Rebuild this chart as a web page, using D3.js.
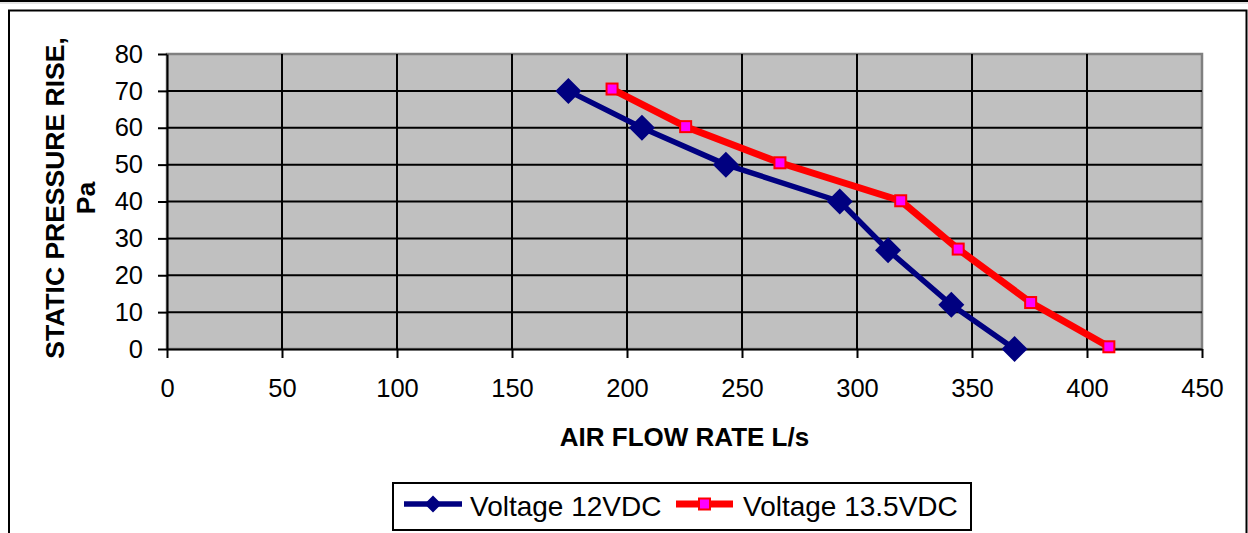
<!DOCTYPE html>
<html>
<head>
<meta charset="utf-8">
<script src="https://cdn.jsdelivr.net/npm/d3@7"></script>
<style>
  html, body { margin: 0; padding: 0; background: #fff; }
  svg { display: block; }
  text { font-family: "Liberation Sans", Arial, sans-serif; fill: #000; }
</style>
</head>
<body>
<svg id="chart" width="1248" height="533"></svg>
<script>
// ---- data ----
const seriesNames = ["Voltage 12VDC", "Voltage 13.5VDC"];
const flow12 = [174.5, 206.5, 243, 292.5, 313.5, 341, 368.5];
const pressure12 = [70, 60, 50, 40, 26.8, 12, 0];
const flow135 = [193.5, 225.5, 266.5, 319, 344, 375.5, 409.5];
const pressure135 = [70.5, 60.3, 50.5, 40.2, 27.1, 12.6, 0.6];
const xTicks = [0, 50, 100, 150, 200, 250, 300, 350, 400, 450];
const yTicks = [0, 10, 20, 30, 40, 50, 60, 70, 80];
const xTitle = "AIR FLOW RATE L/s";
const yTitleLines = ["STATIC PRESSURE RISE,", "Pa"];

// ---- layout ----
const svg = d3.select("#chart");
const W = 1248, H = 533;
const plot = { left: 167, right: 1202, top: 54, bottom: 349 };

const x = d3.scaleLinear().domain([0, 450]).range([plot.left, plot.right]);
const y = d3.scaleLinear().domain([0, 80]).range([plot.bottom, plot.top]);

// outer frame
svg.append("rect").attr("x", 0).attr("y", 0).attr("width", W).attr("height", 2).attr("fill", "#000");
svg.append("rect").attr("x", 0).attr("y", 2.5).attr("width", W).attr("height", 1).attr("fill", "#c8c8c8");
svg.append("path")
  .attr("d", `M9,${H + 5} L9,10.5 L1246.5,10.5 L1246.5,${H + 5}`)
  .attr("fill", "none").attr("stroke", "#000").attr("stroke-width", 2);

// plot area
svg.append("rect")
  .attr("x", plot.left).attr("y", plot.top)
  .attr("width", plot.right - plot.left).attr("height", plot.bottom - plot.top)
  .attr("fill", "#c0c0c0").attr("stroke", "#808080").attr("stroke-width", 2.5);

// gridlines
svg.append("g").selectAll("line").data(xTicks.filter(d => d > 0 && d < 450)).join("line")
  .attr("x1", d => x(d)).attr("x2", d => x(d))
  .attr("y1", plot.top).attr("y2", plot.bottom)
  .attr("stroke", "#000").attr("stroke-width", 2);
svg.append("g").selectAll("line").data(yTicks.filter(d => d > 0 && d < 80)).join("line")
  .attr("x1", plot.left).attr("x2", plot.right)
  .attr("y1", d => y(d)).attr("y2", d => y(d))
  .attr("stroke", "#000").attr("stroke-width", 2);

// axes
const fontSize = 25.5;
const xAxis = d3.axisBottom(x).tickValues(xTicks).tickSizeInner(9).tickSizeOuter(0).tickPadding(21).tickFormat(d3.format("d"));
const yAxis = d3.axisLeft(y).tickValues(yTicks).tickSizeInner(9).tickSizeOuter(0).tickPadding(15).tickFormat(d3.format("d"));

const gx = svg.append("g").attr("transform", `translate(0,${plot.bottom})`).call(xAxis);
const gy = svg.append("g").attr("transform", `translate(${plot.left},0)`).call(yAxis);
[gx, gy].forEach(g => {
  g.select(".domain").attr("stroke", "#000").attr("stroke-width", 2);
  g.selectAll(".tick line").attr("stroke", "#000").attr("stroke-width", 2);
  g.selectAll(".tick text").attr("font-size", fontSize).attr("fill", "#000")
    .attr("font-family", "Liberation Sans, Arial, sans-serif");
});

// axis titles
svg.append("text")
  .attr("x", (plot.left + plot.right) / 2).attr("y", 446)
  .attr("text-anchor", "middle").attr("font-size", 26).attr("font-weight", "bold")
  .text(xTitle);

const yt = svg.append("text")
  .attr("transform", `translate(0,198) rotate(-90)`)
  .attr("text-anchor", "middle").attr("font-size", 26.5).attr("font-weight", "bold");
yTitleLines.forEach((t, i) => {
  yt.append("tspan").attr("x", 0).attr("y", 64 + i * 31).text(t);
});

// series
const data12 = flow12.map((f, i) => [f, pressure12[i]]);
const data135 = flow135.map((f, i) => [f, pressure135[i]]);
const line = d3.line().x(d => x(d[0])).y(d => y(d[1]));

const diamond = r => `M0,${-r}L${r},0L0,${r}L${-r},0Z`;

svg.append("path").datum(data12).attr("d", line)
  .attr("fill", "none").attr("stroke", "#000080").attr("stroke-width", 5.5).attr("stroke-linejoin", "round");
svg.append("g").selectAll("path").data(data12).join("path")
  .attr("transform", d => `translate(${x(d[0])},${y(d[1])})`)
  .attr("d", diamond(13)).attr("fill", "#000080");

svg.append("path").datum(data135).attr("d", line)
  .attr("fill", "none").attr("stroke", "#ff0000").attr("stroke-width", 7).attr("stroke-linejoin", "round");
svg.append("g").selectAll("rect").data(data135).join("rect")
  .attr("x", d => x(d[0]) - 5.5).attr("y", d => y(d[1]) - 5.5)
  .attr("width", 11).attr("height", 11)
  .attr("fill", "#ff00ff").attr("stroke", "#ff0000").attr("stroke-width", 2);

// legend
const lg = svg.append("g");
lg.append("rect").attr("x", 393).attr("y", 483).attr("width", 578).attr("height", 47)
  .attr("fill", "#fff").attr("stroke", "#000").attr("stroke-width", 2);
const ly = 504;
lg.append("line").attr("x1", 404).attr("x2", 462).attr("y1", ly).attr("y2", ly)
  .attr("stroke", "#000080").attr("stroke-width", 5.5);
lg.append("path").attr("transform", `translate(433,${ly})`).attr("d", diamond(8.5)).attr("fill", "#000080");
lg.append("text").attr("x", 470).attr("y", 516).attr("font-size", 28).text(seriesNames[0]);

lg.append("line").attr("x1", 676).attr("x2", 733).attr("y1", ly).attr("y2", ly)
  .attr("stroke", "#ff0000").attr("stroke-width", 7);
lg.append("rect").attr("x", 699).attr("y", ly - 5.5).attr("width", 11).attr("height", 11)
  .attr("fill", "#ff00ff").attr("stroke", "#ff0000").attr("stroke-width", 2);
lg.append("text").attr("x", 743).attr("y", 516).attr("font-size", 28).text(seriesNames[1]);
</script>
</body>
</html>
